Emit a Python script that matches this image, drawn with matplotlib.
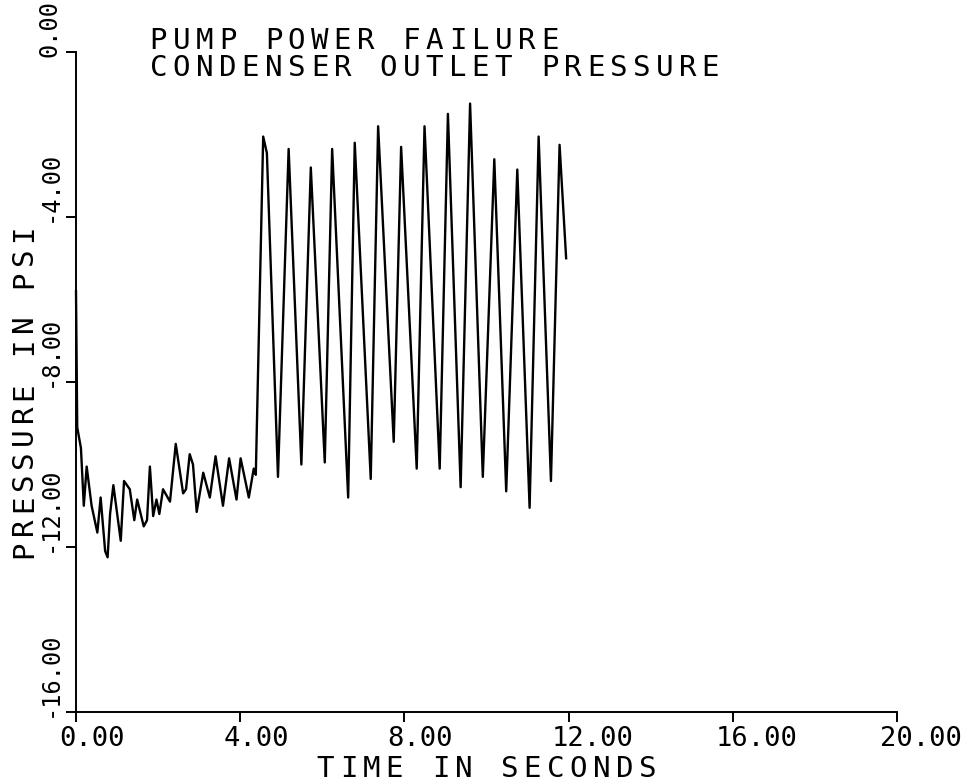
import matplotlib
matplotlib.use('Agg')
import matplotlib.pyplot as plt
from matplotlib.transforms import IdentityTransform, ScaledTranslation

W, H = 974, 784

# readings (seconds, psi)
time_s = [0.00, 0.03, 0.12, 0.19, 0.26, 0.38, 0.52, 0.60, 0.71, 0.77,
          0.83, 0.91, 1.09, 1.17, 1.31, 1.42, 1.49, 1.65, 1.73, 1.80,
          1.88, 1.96, 2.03, 2.12, 2.29, 2.43, 2.61, 2.68, 2.77, 2.85,
          2.94, 3.10, 3.26, 3.40, 3.58, 3.73, 3.91, 4.01, 4.21, 4.33,
          4.38, 4.56, 4.65, 4.92, 5.18, 5.49, 5.72, 6.06, 6.24, 6.63,
          6.79, 7.18, 7.36, 7.74, 7.92, 8.30, 8.49, 8.86, 9.06, 9.37,
          9.60, 9.91, 10.19, 10.48, 10.75, 11.05, 11.27, 11.57, 11.78, 11.94]
pressure_psi = [-5.8, -9.1, -9.6, -11.0, -10.05, -11.0, -11.65, -10.8, -12.1, -12.25,
                -11.2, -10.5, -11.85, -10.4, -10.6, -11.35, -10.85, -11.5, -11.35, -10.05,
                -11.25, -10.85, -11.2, -10.6, -10.9, -9.5, -10.7, -10.6, -9.75, -10.0,
                -11.15, -10.2, -10.8, -9.8, -11.0, -9.85, -10.85, -9.85, -10.8, -10.1,
                -10.25, -2.05, -2.45, -10.3, -2.35, -10.0, -2.8, -9.95, -2.35, -10.8,
                -2.2, -10.35, -1.8, -9.45, -2.3, -10.1, -1.8, -10.1, -1.5, -10.55,
                -1.25, -10.3, -2.6, -10.65, -2.85, -11.05, -2.05, -10.4, -2.25, -5.0]

x_ticks = [0, 4, 8, 12, 16, 20]
x_tick_labels = ['0.00', '4.00', '8.00', '12.00', '16.00', '20.00']
y_ticks = [0, -4, -8, -12, -16]
y_tick_labels = ['0.00', '-4.00', '-8.00', '-12.00', '-16.00']

title_lines = ['PUMP POWER FAILURE', 'CONDENSER OUTLET PRESSURE']
x_title = 'TIME IN SECONDS'
y_title = 'PRESSURE IN PSI'

FONT = 'DejaVu Sans Mono'

fig = plt.figure(figsize=(W / 100, H / 100), dpi=100)
fig.patch.set_facecolor('white')
ax = fig.add_axes([76 / W, 1 - 712 / H, (897 - 76) / W, (712 - 52) / H])


def px(dx, dy):
    return ScaledTranslation(dx / 100, dy / 100, fig.dpi_scale_trans)


def plotter_text(x, y, s, pitch, size, vertical=False):
    # old pen-plotter lettering: fixed pitch, placed char by char (pixel coords from top)
    for i, ch in enumerate(s):
        if vertical:
            fig.text(x, H - (y - (i + 0.5) * pitch), ch, transform=IdentityTransform(),
                     rotation=90, rotation_mode='anchor', ha='center', va='baseline',
                     family=FONT, fontsize=size, color='black')
        else:
            fig.text(x + (i + 0.5) * pitch, H - y, ch, transform=IdentityTransform(),
                     ha='center', va='baseline', family=FONT, fontsize=size, color='black')


ax.plot(time_s, pressure_psi, color='black', lw=1.7, clip_on=False)

ax.set_xlim(0, 20)
ax.set_ylim(-16, 0)
ax.spines['top'].set_visible(False)
ax.spines['right'].set_visible(False)
ax.spines['left'].set_linewidth(1.4)
ax.spines['bottom'].set_linewidth(1.4)
ax.set_xticks(x_ticks)
ax.set_yticks(y_ticks)
ax.tick_params(direction='out', length=7, width=1.4, color='black',
               labelbottom=False, labelleft=False)

# tick labels, plotter style (x labels start left of the tick, y labels rotated)
for t, lab in zip(x_ticks, x_tick_labels):
    ax.text(t, 0, lab, transform=ax.get_xaxis_transform() + px(-17, -14),
            ha='left', va='top', family=FONT, fontsize=19.5, color='black')
for t, lab in zip(y_ticks, y_tick_labels):
    ax.text(0, t, lab, transform=ax.get_yaxis_transform() + px(-14, -5),
            rotation=90, ha='right', va='bottom', family=FONT, fontsize=17, color='black')

plotter_text(147, 49, title_lines[0], 23, 21)
plotter_text(147, 76, title_lines[1], 23, 21)
plotter_text(314, 777, x_title, 23, 21)
plotter_text(32, 560, y_title, 22.5, 21, vertical=True)

fig.savefig('out.png', dpi=100)
